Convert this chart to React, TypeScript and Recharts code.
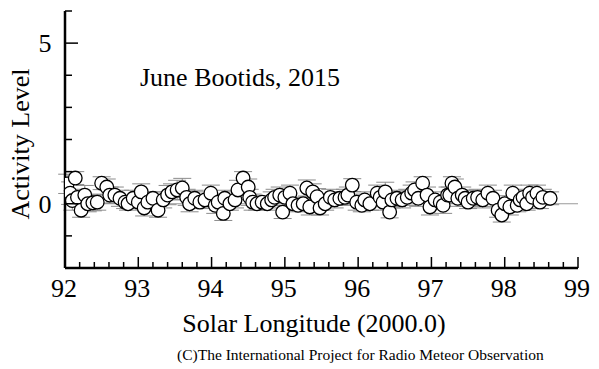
import React from "react";
import { ScatterChart, Scatter, XAxis, YAxis, ErrorBar, ReferenceLine } from "recharts";

// solar longitude (deg), activity level, error (half-length of the bar)
const solarLongitude = [
  92.03, 92.07, 92.1, 92.14, 92.17, 92.22, 92.27, 92.31, 92.38, 92.44,
  92.5, 92.57, 92.61, 92.68, 92.75, 92.82, 92.86, 92.93, 93.0, 93.04,
  93.08, 93.13, 93.2, 93.27, 93.34, 93.4, 93.46, 93.53, 93.6, 93.66,
  93.7, 93.77, 93.84, 93.91, 93.99, 94.05, 94.09, 94.16, 94.18, 94.25,
  94.32, 94.36, 94.43, 94.5, 94.52, 94.56, 94.62, 94.69, 94.76, 94.82,
  94.86, 94.93, 94.97, 95.0, 95.07, 95.11, 95.18, 95.25, 95.3, 95.34,
  95.38, 95.44, 95.48, 95.55, 95.62, 95.68, 95.75, 95.82, 95.86, 95.92,
  95.98, 96.05, 96.09, 96.16, 96.26, 96.3, 96.34, 96.37, 96.43, 96.46,
  96.53, 96.6, 96.67, 96.73, 96.77, 96.82, 96.88, 96.94, 96.98, 97.05,
  97.12, 97.16, 97.22, 97.25, 97.28, 97.32, 97.36, 97.42, 97.46, 97.5,
  97.57, 97.63, 97.7, 97.77, 97.84, 97.91, 97.96, 98.0, 98.07, 98.11,
  98.17, 98.21, 98.25, 98.3, 98.34, 98.38, 98.44, 98.48, 98.52, 98.62,
];

const activityLevel = [
  0.62, 0.33, 0.1, 0.8, 0.2, -0.2, 0.27, 0.0, 0.03, 0.05,
  0.64, 0.52, 0.27, 0.27, 0.17, 0.05, 0.0, 0.17, 0.05, 0.37,
  -0.13, 0.05, 0.17, -0.2, 0.12, 0.27, 0.37, 0.43, 0.49, 0.2,
  0.0, 0.17, 0.05, 0.12, 0.33, -0.05, 0.05, -0.3, 0.17, 0.0,
  0.12, 0.43, 0.8, 0.52, 0.2, 0.05, 0.0, 0.05, 0.0, 0.12,
  0.2, 0.27, -0.26, 0.2, 0.33, 0.0, -0.05, 0.0, 0.49, -0.1,
  0.37, 0.22, -0.13, 0.0, 0.2, 0.12, 0.17, 0.2, 0.27, 0.58,
  0.05, -0.05, 0.12, 0.0, 0.33, 0.2, 0.05, 0.37, -0.26, 0.12,
  0.17, 0.12, 0.2, 0.33, 0.43, 0.17, 0.64, 0.27, -0.1, 0.12,
  0.05, -0.05, 0.27, 0.27, 0.64, 0.52, 0.17, 0.27, 0.17, 0.05,
  0.17, 0.2, 0.12, 0.33, 0.17, -0.2, -0.35, 0.0, -0.1, 0.33,
  -0.05, 0.12, 0.2, 0.0, 0.33, 0.2, 0.33, 0.05, 0.2, 0.17,
];

const activityError = [
  0.3, 0.35, 0.3, 0.2, 0.25, 0.22, 0.3, 0.25, 0.25, 0.25,
  0.2, 0.25, 0.25, 0.25, 0.25, 0.2, 0.2, 0.25, 0.2, 0.25,
  0.25, 0.25, 0.2, 0.22, 0.25, 0.3, 0.25, 0.3, 0.3, 0.25,
  0.25, 0.25, 0.2, 0.25, 0.25, 0.25, 0.25, 0.22, 0.25, 0.2,
  0.25, 0.3, 0.2, 0.25, 0.25, 0.25, 0.2, 0.2, 0.2, 0.25,
  0.25, 0.25, 0.2, 0.25, 0.25, 0.2, 0.2, 0.2, 0.25, 0.25,
  0.25, 0.25, 0.22, 0.2, 0.25, 0.25, 0.2, 0.25, 0.25, 0.2,
  0.25, 0.2, 0.25, 0.2, 0.25, 0.25, 0.25, 0.3, 0.18, 0.25,
  0.25, 0.25, 0.25, 0.25, 0.25, 0.25, 0.2, 0.25, 0.25, 0.25,
  0.2, 0.25, 0.25, 0.25, 0.2, 0.25, 0.25, 0.25, 0.25, 0.2,
  0.25, 0.25, 0.25, 0.25, 0.25, 0.22, 0.22, 0.25, 0.25, 0.25,
  0.2, 0.25, 0.25, 0.2, 0.25, 0.25, 0.25, 0.2, 0.25, 0.2,
];

const xMajorTicks = [92, 93, 94, 95, 96, 97, 98, 99];
const yTicks = [-2, -1, 0, 1, 2, 3, 4, 5, 6];
const yLabeled = [0, 5];

const data = solarLongitude.map((x, i) => ({
  x,
  y: activityLevel[i],
  err: activityError[i],
}));

// minor ticks every 0.2 deg between the major ones
const xTicks: number[] = [];
xMajorTicks.forEach((t, i) => {
  xTicks.push(t);
  if (i < xMajorTicks.length - 1) {
    for (let k = 1; k < 5; k++) xTicks.push(+(t + k * 0.2).toFixed(1));
  }
});

const FONT = "'Liberation Serif', 'Times New Roman', serif";

const XTick = (props: any) => {
  const { x, y, payload } = props;
  const v = payload.value;
  const major = Math.abs(v - Math.round(v)) < 1e-6;
  return (
    <g>
      <line x1={x} x2={x} y1={y} y2={y - (major ? 11 : 6)} stroke="#000" strokeWidth={1.5} />
      {major && (
        <text x={x - 1} y={y + 29} textAnchor="middle" fontSize={26} fontFamily={FONT} fill="#000">
          {v}
        </text>
      )}
    </g>
  );
};

const YTick = (props: any) => {
  const { x, y, payload } = props;
  const v = payload.value;
  const major = yLabeled.includes(v);
  return (
    <g>
      <line x1={x} x2={x + (major ? 13 : 7)} y1={y} y2={y} stroke="#000" strokeWidth={1.5} />
      {major && (
        <text x={x - 20} y={y + 9} textAnchor="middle" fontSize={26} fontFamily={FONT} fill="#000">
          {v}
        </text>
      )}
    </g>
  );
};

const OpenCircle = (props: any) => (
  <circle cx={props.cx} cy={props.cy} r={6.8} fill="#fff" stroke="#000" strokeWidth={1.3} />
);

export default function App() {
  return (
    <div style={{ position: "absolute", left: 0, top: 0, width: 599, height: 369, background: "#fff" }}>
      <ScatterChart
        width={599}
        height={369}
        margin={{ top: 11, right: 21, bottom: 71, left: 25 }}
      >
        <XAxis
          type="number"
          dataKey="x"
          domain={[92, 99]}
          ticks={xTicks}
          interval={0}
          height={30}
          tickSize={0}
          tickMargin={0}
          tickLine={false}
          axisLine={{ stroke: "#000", strokeWidth: 2.5 }}
          tick={<XTick />}
          allowDataOverflow
        />
        <YAxis
          type="number"
          dataKey="y"
          domain={[-2, 6]}
          ticks={yTicks}
          interval={0}
          width={40}
          tickSize={0}
          tickMargin={0}
          tickLine={false}
          axisLine={{ stroke: "#000", strokeWidth: 2.5 }}
          tick={<YTick />}
          allowDataOverflow
        />
        <ReferenceLine y={0} stroke="#9a9a9a" strokeWidth={1} />
        <Scatter data={data} shape={<OpenCircle />} isAnimationActive={false}>
          <ErrorBar dataKey="err" direction="y" width={9} stroke="#8c8c8c" strokeWidth={1} />
        </Scatter>
      </ScatterChart>
      <svg
        width={599}
        height={369}
        style={{ position: "absolute", left: 0, top: 0, pointerEvents: "none" }}
      >
        <text x={140} y={86} fontSize={26} fontFamily={FONT} fill="#000">
          June Bootids, 2015
        </text>
        <text
          transform="translate(29,144) rotate(-90)"
          textAnchor="middle"
          fontSize={26}
          fontFamily={FONT}
          fill="#000"
        >
          Activity Level
        </text>
        <text x={314} y={332} textAnchor="middle" fontSize={26} fontFamily={FONT} fill="#000">
          Solar Longitude (2000.0)
        </text>
        <text x={177} y={360} fontSize={15.5} fontFamily={FONT} fill="#000">
          (C)The International Project for Radio Meteor Observation
        </text>
      </svg>
    </div>
  );
}
